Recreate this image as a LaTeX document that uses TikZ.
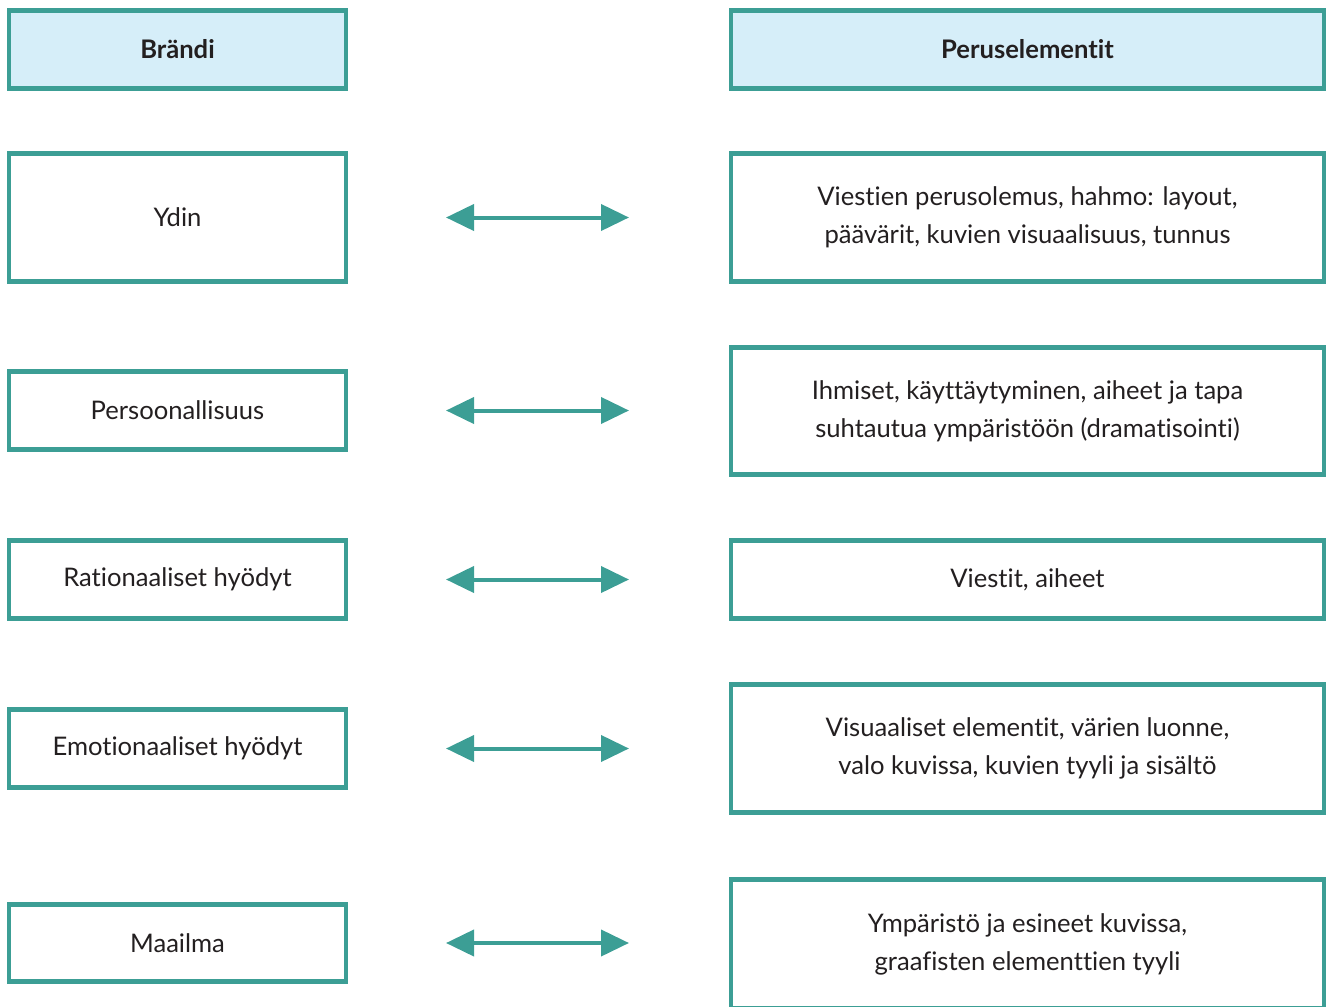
\documentclass[tikz,border=0pt]{standalone}
\usepackage{fontspec}
\setmainfont{Lato}[Ligatures={NoCommon}]
\usetikzlibrary{arrows.meta}
\definecolor{teal1}{HTML}{3C9E95}
\definecolor{headfill}{HTML}{D6EEF9}
\definecolor{ink}{HTML}{231F20}
\begin{document}
\begin{tikzpicture}[x=0.5pt,y=-0.5pt,
  box/.style={draw=teal1, line width=2.2pt, rectangle, inner sep=0pt, outer sep=0pt,
    text=ink, align=center, font=\fontsize{12.8}{19}\selectfont},
  lbox/.style={box, minimum width=168.5pt},
  rbox/.style={box, minimum width=296.5pt},
  short/.style={minimum height=39pt},
  tall/.style={minimum height=64pt},
  head/.style={fill=headfill, font=\fontsize{12.8}{19}\selectfont\bfseries},
  link/.style={draw=teal1, line width=2pt, {Triangle[length=14pt,width=13pt]}-{Triangle[length=14pt,width=13pt]}, shorten <=50pt, shorten >=51pt}
]
\useasboundingbox (0,0) rectangle (1330,1007);
\begin{scope}
\clip (0,0) rectangle (1330,1007);
% left column
\node[lbox, short, head] (brandi) at (177.5,49.5) {Brändi};
\node[lbox, tall] (ydin) at (177.5,217.5) {Ydin};
\node[lbox, short] (pers) at (177.5,410.5) {Persoonallisuus};
\node[lbox, short] (rat) at (177.5,579.5) {Rationaaliset hyödyt};
\node[lbox, short] (emo) at (177.5,748.5) {Emotionaaliset hyödyt};
\node[lbox, minimum height=38.5pt] (maa) at (177.5,943) {Maailma};
% right column
\node[rbox, short, head] (perus) at (1027.5,49.5) {Peruselementit};
\node[rbox, tall] (viestien) at (1027.5,217.5) {Viestien perusolemus, hahmo: layout,\\päävärit, kuvien visuaalisuus, tunnus};
\node[rbox, minimum height=63.5pt] (ihmiset) at (1027.5,411) {Ihmiset, käyttäytyminen, aiheet ja tapa\\suhtautua ympäristöön (dramatisointi)};
\node[rbox, short] (viestit) at (1027.5,579.5) {Viestit, aiheet};
\node[rbox, tall] (visu) at (1027.5,748.5) {Visuaaliset elementit, värien luonne,\\valo kuvissa, kuvien tyyli ja sisältö};
\node[rbox, minimum height=64.5pt] (ymp) at (1027.5,944) {Ympäristö ja esineet kuvissa,\\graafisten elementtien tyyli};
% connectors
\draw[link] (ydin.east) -- (ydin.east -| viestien.west);
\draw[link] (pers.east) -- (pers.east -| ihmiset.west);
\draw[link] (rat.east) -- (rat.east -| viestit.west);
\draw[link] (emo.east) -- (emo.east -| visu.west);
\draw[link] (maa.east) -- (maa.east -| ymp.west);
\end{scope}
\end{tikzpicture}
\end{document}
